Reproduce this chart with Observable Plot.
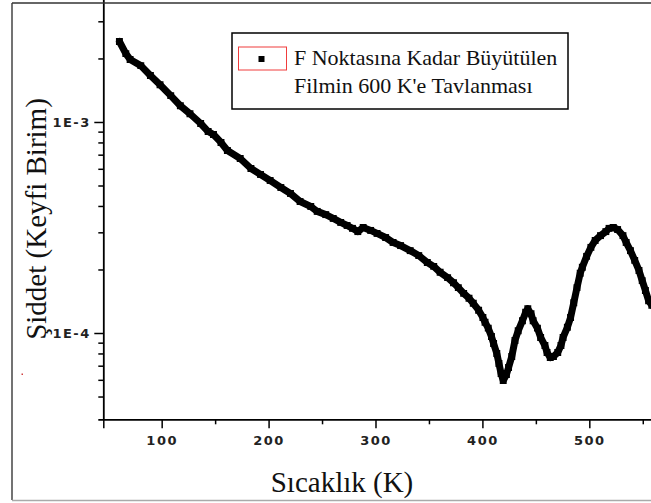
<!DOCTYPE html>
<html>
<head>
<meta charset="utf-8">
<script src="https://cdn.jsdelivr.net/npm/d3@7"></script>
<script src="https://cdn.jsdelivr.net/npm/@observablehq/plot@0.6"></script>
<style>
  html, body { margin: 0; padding: 0; background: #fff; }
  #chart svg { display: block; }
  g[aria-label$="tick label"] text { letter-spacing: 1.5px; font-weight: bold; font-size: 13px !important; fill: #222; }
</style>
</head>
<body>
<div id="chart"></div>
<script>
// Temperature (K)
const temps = [60,66,70,80,89,98,108,117,126,136,143,148,155,161,173,183,192,201,211,220,
  229,239,245,253,260,267,273,278,283,288,295,301,309,316,323,332,340,348,354,360,
  367,372.5,377,382,387,391,396,400,402,405,408,410,413,415,417,419,422,424,427,430,
  433,437,440,442,445,447,451,454,458,460,463,466,470,473,475,479,482,485,488,491,
  493,497,501,505,510,515,518,522,526,531,534,538,542,546,549,552,555,558];
// Intensity (arbitrary units)
const intensity = [2.42e-3,2.12e-3,1.99e-3,1.86e-3,1.67e-3,1.51e-3,1.34e-3,1.20e-3,1.10e-3,9.89e-4,
  9.06e-4,8.77e-4,8.04e-4,7.37e-4,6.75e-4,6.05e-4,5.67e-4,5.31e-4,4.92e-4,4.61e-4,
  4.22e-4,4.00e-4,3.79e-4,3.66e-4,3.51e-4,3.36e-4,3.25e-4,3.15e-4,3.04e-4,3.18e-4,
  3.08e-4,2.98e-4,2.85e-4,2.70e-4,2.61e-4,2.47e-4,2.34e-4,2.17e-4,2.08e-4,1.95e-4,
  1.84e-4,1.74e-4,1.65e-4,1.55e-4,1.47e-4,1.39e-4,1.29e-4,1.19e-4,1.13e-4,1.06e-4,
  9.68e-5,8.97e-5,8.04e-5,7.21e-5,6.46e-5,5.99e-5,6.39e-5,6.90e-5,7.78e-5,9.27e-5,
  1.03e-4,1.15e-4,1.26e-4,1.31e-4,1.24e-4,1.15e-4,1.06e-4,9.58e-5,8.77e-5,8.13e-5,
  7.69e-5,7.78e-5,8.13e-5,8.77e-5,9.58e-5,1.07e-4,1.19e-4,1.40e-4,1.65e-4,1.93e-4,
  2.06e-4,2.32e-4,2.56e-4,2.76e-4,2.91e-4,3.04e-4,3.15e-4,3.18e-4,3.11e-4,2.91e-4,
  2.70e-4,2.47e-4,2.22e-4,1.99e-4,1.78e-4,1.60e-4,1.43e-4,1.36e-4];

const xMajorTicks = [100, 200, 300, 400, 500];
const xMinorTicks = [150, 250, 350, 450, 550];
const yMajorTicks = [1e-3, 1e-4];
const yTickLabels = ["1E-3", "1E-4"];
const yMinorTicks = [3e-3, 2e-3, 9e-4, 8e-4, 7e-4, 6e-4, 5e-4, 4e-4, 3e-4, 2e-4, 9e-5, 8e-5, 7e-5, 6e-5, 5e-5];
const xDomain = [45.4, 557.7];
const yDomain = [3.9e-5, 3.785e-3];

const xTitle = "Sıcaklık (K)";
const yTitle = "Şiddet (Keyfi Birim)";
const legendLines = ["F Noktasına Kadar Büyütülen", "Filmin 600 K'e Tavlanması"];

const data = temps.map((t, i) => ({t, v: intensity[i]}));

const chart = Plot.plot({
  width: 651,
  height: 503,
  marginLeft: 103.3,
  marginRight: 0,
  marginTop: 0,
  marginBottom: 83.7,
  style: {background: "white", fontFamily: "DejaVu Sans", fontSize: "13px", color: "#222", overflow: "hidden"},
  x: {domain: xDomain},
  y: {type: "log", domain: yDomain},
  marks: [
    Plot.line(data, {x: "t", y: "v", stroke: "black", strokeWidth: 7, strokeLinejoin: "round", clip: true}),
    Plot.dot(data, {x: "t", y: "v", symbol: "square", r: 3.9, fill: "black", clip: true}),
    Plot.axisX({ticks: xMajorTicks, tickSize: 9, tickPadding: 7, tickFormat: d => String(d), label: null, stroke: "black", strokeWidth: 1.5, fontSize: 13}),
    Plot.axisX({ticks: xMinorTicks, tickSize: 5, tickFormat: () => "", label: null, stroke: "black", strokeWidth: 1.5}),
    Plot.axisX({ticks: [xDomain[0]], tickSize: 9, tickFormat: () => "", label: null, stroke: "black", strokeWidth: 1.5}),
    Plot.axisY({ticks: yMajorTicks, tickSize: 9, tickPadding: 4, tickFormat: d => yTickLabels[yMajorTicks.indexOf(d)], label: null, stroke: "black", strokeWidth: 1.5, fontSize: 13}),
    Plot.axisY({ticks: yMinorTicks, tickSize: 5, tickFormat: () => "", label: null, stroke: "black", strokeWidth: 1.5}),
    Plot.ruleX([xDomain[0]], {stroke: "black", strokeWidth: 1.8}),
    Plot.ruleY([yDomain[0]], {stroke: "black", strokeWidth: 1.8, insetLeft: -5})
  ]
});

document.getElementById("chart").appendChild(chart);

const svg = d3.select(chart);
// outer frame
svg.append("line").attr("x1", 12).attr("x2", 12).attr("y1", 3).attr("y2", 500).attr("stroke", "#444").attr("stroke-width", 1.5);
svg.append("line").attr("x1", 12).attr("x2", 651).attr("y1", 3).attr("y2", 3).attr("stroke", "#333").attr("stroke-width", 1.5);
svg.append("line").attr("x1", 12).attr("x2", 651).attr("y1", 500.5).attr("y2", 500.5).attr("stroke", "#aaa").attr("stroke-width", 1.5);
svg.append("rect").attr("x", 21.5).attr("y", 373.5).attr("width", 1.5).attr("height", 1.5).attr("fill", "#d04040");

// axis titles
svg.append("text").attr("x", 342).attr("y", 492).attr("text-anchor", "middle")
  .attr("font-family", "Liberation Serif").attr("font-size", 29).attr("fill", "#111").text(xTitle);
svg.append("text").attr("transform", "translate(46,219) rotate(-90)").attr("text-anchor", "middle")
  .attr("font-family", "Liberation Serif").attr("font-size", 29).attr("fill", "#111").text(yTitle);

// legend
const lg = svg.append("g").attr("text-anchor", "start");
lg.append("rect").attr("x", 232).attr("y", 33).attr("width", 336).attr("height", 76)
  .attr("fill", "white").attr("stroke", "black").attr("stroke-width", 1.5);
lg.append("rect").attr("x", 238.5).attr("y", 47).attr("width", 48).attr("height", 23)
  .attr("fill", "none").attr("stroke", "#f03c3c").attr("stroke-width", 1);
lg.append("rect").attr("x", 258.5).attr("y", 56).attr("width", 6).attr("height", 6).attr("fill", "black");
legendLines.forEach((s, i) => {
  lg.append("text").attr("x", 294).attr("y", 65 + i * 28).attr("text-anchor", "start")
    .attr("font-family", "Liberation Serif").attr("font-size", 22).attr("fill", "#111").text(s);
});
</script>
</body>
</html>
